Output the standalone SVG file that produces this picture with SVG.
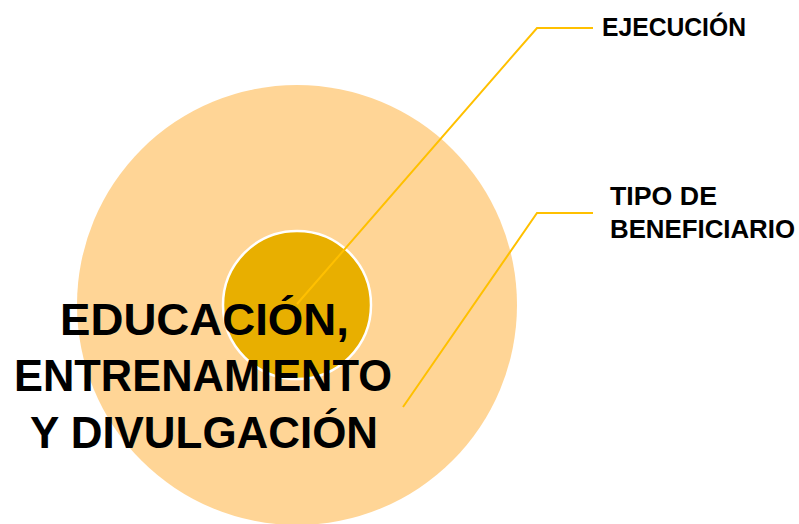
<svg xmlns="http://www.w3.org/2000/svg" width="799" height="524" viewBox="0 0 799 524">
<style>
.lbl{font-family:"Liberation Sans",Arial,sans-serif;font-weight:bold;fill:#000}
.conn{fill:none;stroke:#FFC000;stroke-width:2}
</style>
<rect width="799" height="524" fill="#fff"/>
<g id="outer"><circle cx="297" cy="305" r="220" fill="#FFD596"/></g>
<g id="inner"><circle cx="297" cy="305" r="74" fill="#E8AF00" stroke="#fff" stroke-width="2.5"/></g>
<g id="connectors">
<polyline class="conn" points="297,304 537,28 593,28"/>
<polyline class="conn" points="403,407 537,213 593,213"/>
</g>
<g id="main-label">
<text class="lbl" font-size="44">
<tspan x="60" y="335" textLength="289" lengthAdjust="spacingAndGlyphs">EDUCACIÓN,</tspan>
<tspan x="14" y="391" textLength="378" lengthAdjust="spacingAndGlyphs">ENTRENAMIENTO</tspan>
<tspan x="30" y="448" textLength="348" lengthAdjust="spacingAndGlyphs">Y DIVULGACIÓN</tspan>
</text>
</g>
<g id="ejecucion"><text class="lbl" font-size="26" x="602" y="36" textLength="144" lengthAdjust="spacingAndGlyphs">EJECUCIÓN</text></g>
<g id="tipo"><text class="lbl" font-size="26"><tspan x="610" y="205" textLength="107" lengthAdjust="spacingAndGlyphs">TIPO DE</tspan><tspan x="610" y="238" textLength="185" lengthAdjust="spacingAndGlyphs">BENEFICIARIO</tspan></text></g>
</svg>
